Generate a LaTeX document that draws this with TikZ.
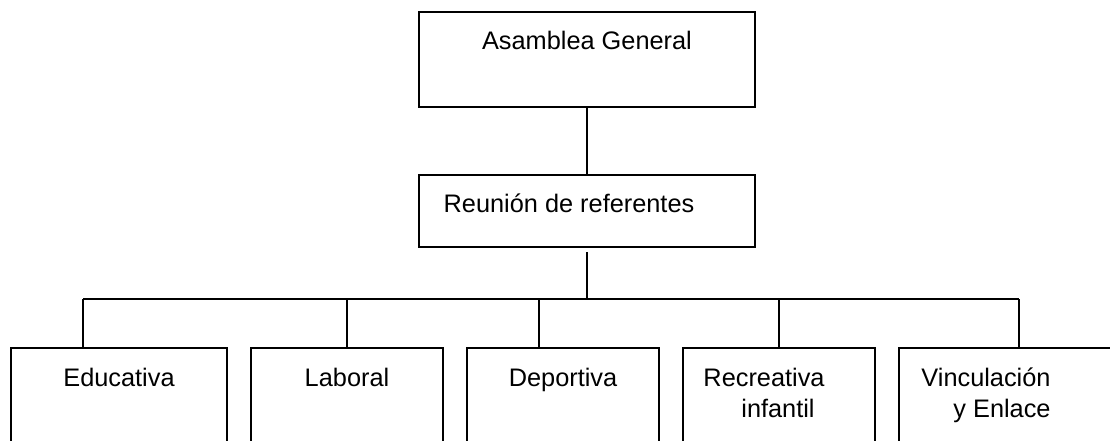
\documentclass[tikz,border=0pt]{standalone}
\usepackage{fontspec}
\setmainfont{Liberation Sans}
\usetikzlibrary{fit}
\tikzset{
  box/.style={draw, rectangle, line width=1.5pt, inner sep=0pt},
  lbl/.style={anchor=base, inner sep=0pt, font=\fontsize{19}{23}\selectfont},
  link/.style={line width=1.5pt}
}
\begin{document}
\begin{tikzpicture}[x=0.75pt,y=-0.75pt]
\fill[white] (0,0) rectangle (1110,440);
\useasboundingbox (0,0) rectangle (1110,440);
\clip (0,0) rectangle (1110,440);
% upper levels
\node (asm) [box, fit={(419,12) (755,107)}] {};
\node (reu) [box, fit={(419,175) (755,247)}] {};
\node (asmt) [lbl] at (587,49) {Asamblea General};
\node (reut) [lbl] at (569,212) {Reunión de referentes};
% comisiones
\node (edu) [box, fit={(11,348) (227,470)}] {};
\node (lab) [box, fit={(251,348) (443,470)}] {};
\node (dep) [box, fit={(467,348) (659,470)}] {};
\node (rec) [box, fit={(683,348) (875,470)}] {};
\node (vin) [box, fit={(899,348) (1139,470)}] {};
\node (edut) [lbl] at (119,386) {Educativa};
\node (labt) [lbl] at (347,386) {Laboral};
\node (dept) [lbl] at (563,386) {Deportiva};
\node (rect) [lbl] at (764,386) {Recreativa};
\node (recu) [lbl] at (778,417) {infantil};
\node (vint) [lbl] at (986,386) {Vinculación};
\node (vinu) [lbl] at (1002,417) {y Enlace};
% lines
\coordinate (bus) at (587,299);
\draw[link] (asm) -- (reu);
\draw[link] ([yshift=-3pt]reu.south) -- (bus);
\foreach \x/\n in {83/edu,347/lab,539/dep,779/rec,1019/vin}
  \coordinate (b\n) at (\x,299);
\draw[link] (bedu) -- (bvin);
\foreach \n in {edu,lab,dep,rec,vin}
  \draw[link] (b\n) -- (b\n |- \n.north);
\end{tikzpicture}
\end{document}
